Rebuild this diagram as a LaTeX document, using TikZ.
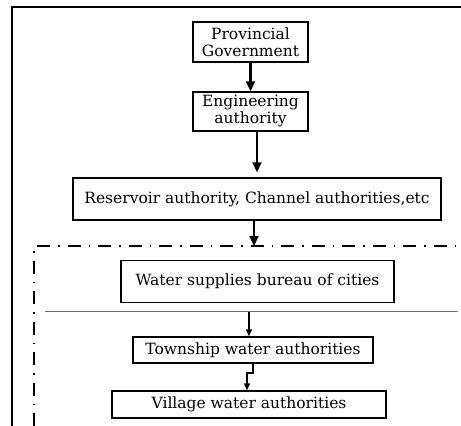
\documentclass[tikz,border=0pt]{standalone}
\usepackage{fontspec}
\setmainfont{DejaVu Serif}
\usetikzlibrary{arrows.meta}
\begin{document}
\begin{tikzpicture}[x=1pt,y=-1pt,
  box/.style={draw=black, line width=1.5pt, inner sep=0pt, align=center, font=\fontsize{15.5}{17}\selectfont, fill=white},
  bigarrow/.style={line width=2.2pt, -{Triangle[length=10pt,width=9pt]}},
  smallarrow/.style={line width=1.4pt, -{Triangle[length=7pt,width=6pt]}},
  frameline/.style={line width=2pt},
  dashdotline/.style={line width=1.3pt, dash pattern=on 13pt off 8pt on 1.5pt off 8pt},
  sepline/.style={line width=1pt, draw=black!55}]
\useasboundingbox (0,0) rectangle (461,426);
% outer frame
\coordinate (ftl) at (11.5,6.5);
\coordinate (ftr) at (461,6.5);
\coordinate (fbl) at (11.5,426);
\draw[frameline] (fbl) -- (ftl) -- (ftr);
% dash-dot frame
\coordinate (dtl) at (34,246);
\coordinate (dtr) at (461,246);
\coordinate (dbl) at (34,426);
\draw[dashdotline] (dbl) -- (dtl) -- (dtr);
% separator
\coordinate (sl) at (45,311);
\coordinate (sr) at (458,311);
\draw[sepline] (sl) -- (sr);
% boxes
\node[box, minimum width=115pt, minimum height=40pt] (b1) at (250.5,42) {Provincial\\Government};
\node[box, minimum width=115pt, minimum height=39pt] (b2) at (250.5,111.5) {Engineering\\authority};
\node[box, minimum width=368pt, minimum height=42pt] (b3) at (257,199) {Reservoir authority, Channel authorities,etc};
\node[box, minimum width=273pt, minimum height=42pt] (b4) at (257.5,281.5) {Water supplies bureau of cities};
\node[box, minimum width=240pt, minimum height=26pt] (b5) at (253,350) {Township water authorities};
\node[box, minimum width=274pt, minimum height=27pt] (b6) at (249,404.5) {Village water authorities};
% arrows
\draw[bigarrow] (b1.south) -- (b2.north);
\draw[bigarrow, shorten >=5pt] (b2.south -| b3.north) -- (b3.north);
\coordinate (a3end) at (254,246);
\draw[bigarrow] (b3.south -| a3end) -- (a3end);
\coordinate (a4start) at (249,312);
\draw[smallarrow] (a4start) -- (a4start |- b5.north);
\coordinate (j1) at (253,373);
\coordinate (j2) at (247,373);
\draw[smallarrow] (b5.south -| j1) -- (j1) -- (j2) -- (j2 |- b6.north);
\end{tikzpicture}
\end{document}
